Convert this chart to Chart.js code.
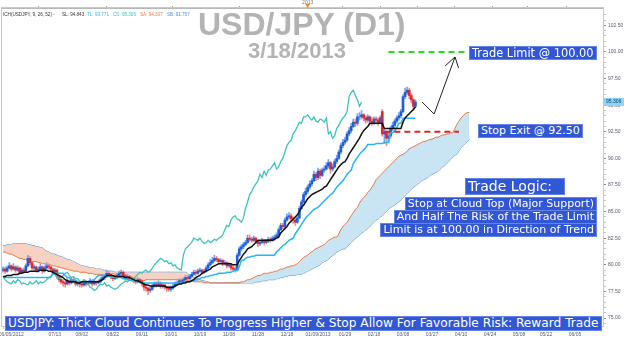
<!DOCTYPE html>
<html>
<head>
<meta charset="utf-8">
<script src="https://cdn.jsdelivr.net/npm/chart.js@4.4.1/dist/chart.umd.min.js"></script>
<style>
  body { margin: 0; background: #fff; }
  .wrap { position: relative; width: 624px; height: 345px; overflow: hidden; font-family: 'DejaVu Sans', sans-serif; }
  canvas { position: absolute; left: 0; top: 0; }
  .title { position: absolute; color: #b3b3b3; font-family: 'Liberation Sans', Arial, sans-serif; font-weight: bold; white-space: nowrap; }
  .ich { position: absolute; top: 12px; font-family: 'Liberation Sans', sans-serif; font-size: 4.6px; line-height: 6px; white-space: nowrap; }
  .note { position: absolute; background: #3157d5; color: #fff; font-size: 11px; line-height: 12px; padding: 0 2px; white-space: nowrap; border: 1px solid #6484ea; }
</style>
</head>
<body>
<div class="wrap">
  <canvas id="chart" width="624" height="345"></canvas>

  <span class="ich" style="left:3px;color:#333">ICH(USDJPY, 9, 26, 52) -</span>
  <span class="ich" id="hSL" style="left:62px;color:#333"></span>
  <span class="ich" id="hTL" style="left:87px;color:#2db4ee"></span>
  <span class="ich" id="hCS" style="left:113px;color:#36c2b6"></span>
  <span class="ich" id="hSA" style="left:140px;color:#ee7a45"></span>
  <span class="ich" id="hSB" style="left:167px;color:#4a8fd6"></span>

  <div class="title" style="left:198px;top:8px;font-size:32px;line-height:32px">USD/JPY (D1)</div>
  <div class="title" style="left:248px;top:40px;font-size:22px;line-height:22px">3/18/2013</div>

  <div class="note" style="left:469px;top:46px;font-size:11.4px">Trade Limit @ 100.00</div>
  <div class="note" style="left:478px;top:124px">Stop Exit @ 92.50</div>
  <div class="note" style="left:465px;top:178px;font-size:14px;line-height:15px;padding-right:12px">Trade Logic:</div>
  <div class="note" style="right:27px;top:197px">Stop at Cloud Top (Major Support)</div>
  <div class="note" style="right:27px;top:210px">And Half The Risk of the Trade Limit</div>
  <div class="note" style="right:27px;top:223px">Limit is at 100.00 in Direction of Trend</div>
  <div class="note" style="left:5px;top:316px;font-size:12.2px;line-height:13px">USDJPY: Thick Cloud Continues To Progress Higher &amp; Stop Allow For Favorable Risk: Reward Trade</div>
</div>

<script>
// daily USD/JPY candles, 06/05/2012 .. 3/18/2013
const opens = [79.5,79.6,79.4,79.7,79.9,79.6,79.8,79.5,79.7,79.3,
  79.5,79.4,79.9,80.6,80.2,79.7,79.8,79.5,79.6,79.8,
  79.4,79.7,79.9,79.8,79.6,79.3,79.5,78.9,78.6,78.4,
  78.3,78.2,78.5,78.3,78.6,78.5,78.2,78.3,78.2,78.1,
  78.4,78.2,78.3,78.5,78.2,78.4,78.3,78.4,78.6,78.8,
  78.9,79.2,79.1,78.9,78.7,78.8,79.0,79.2,79.3,79.0,
  78.8,78.9,78.7,78.7,78.5,78.4,78.6,78.5,78.2,77.9,
  77.8,77.6,77.7,78.0,78.2,78.1,78.3,78.0,78.1,77.9,
  77.8,77.7,77.8,78.0,78.2,78.3,78.5,78.4,78.6,78.8,
  78.7,78.9,79.1,79.3,79.2,79.4,79.5,79.3,79.4,79.7,
  80.0,80.2,80.4,80.6,80.5,80.3,80.4,80.1,80.2,79.9,
  80.0,79.7,79.6,79.5,80.9,81.5,81.7,81.9,82.1,82.5,
  82.4,82.3,82.5,82.2,82.0,82.1,82.3,82.1,82.2,82.4,
  82.3,82.5,82.6,82.8,83.3,83.7,83.6,84.2,84.5,84.6,
  84.3,84.2,84.0,84.4,85.3,85.9,86.6,86.9,87.3,87.6,
  87.9,88.5,88.2,88.8,88.4,88.9,89.0,89.3,89.6,89.0,
  89.2,89.7,90.0,90.6,91.2,91.5,91.7,92.3,92.6,93.0,
  93.4,93.3,93.9,93.9,94.1,93.8,93.6,93.9,93.5,93.4,
  93.7,93.6,93.4,94.4,92.3,92.5,91.9,92.1,92.8,93.1,
  93.5,93.8,94.0,94.4,95.8,96.2,96.4,95.9,95.5,94.9];

const highs = [79.8,79.8,79.9,80.2,80.0,80.1,79.9,79.9,79.8,79.7,
  79.7,80.1,80.9,80.8,80.3,80.0,79.9,79.8,80.1,79.9,
  79.9,80.2,80.1,79.9,79.7,79.7,79.6,79.0,78.8,78.6,
  78.5,78.7,78.6,78.8,78.8,78.6,78.5,78.4,78.4,78.6,
  78.5,78.5,78.7,78.6,78.6,78.5,78.6,78.8,79.0,79.1,
  79.5,79.4,79.2,79.0,79.0,79.2,79.4,79.5,79.4,79.1,
  79.1,79.0,78.9,78.8,78.6,78.8,78.7,78.6,78.3,78.1,
  77.9,77.9,78.2,78.4,78.4,78.5,78.4,78.3,78.2,78.0,
  78.0,78.0,78.2,78.4,78.5,78.7,78.7,78.8,79.0,79.0,
  79.1,79.3,79.5,79.5,79.6,79.7,79.6,79.6,79.9,80.2,
  80.5,80.7,80.9,80.8,80.6,80.6,80.5,80.4,80.3,80.2,
  80.1,79.9,79.8,81.1,81.7,81.9,82.1,82.3,82.8,82.8,
  82.6,82.7,82.6,82.3,82.3,82.5,82.4,82.4,82.6,82.6,
  82.7,82.8,83.0,83.5,83.9,83.9,84.4,84.8,84.9,84.8,
  84.5,84.4,84.6,85.5,86.1,86.8,87.2,87.5,87.9,88.1,
  88.8,88.7,89.1,89.0,89.1,89.3,89.6,89.9,89.7,89.5,
  89.9,90.3,90.8,91.4,91.8,92.0,92.5,92.9,93.3,93.7,
  93.7,94.2,94.3,94.5,94.2,94.0,94.1,94.0,93.8,93.9,
  93.9,93.8,94.0,94.6,92.8,92.6,92.4,93.0,93.4,93.7,
  94.0,94.3,94.6,96.0,96.6,96.7,96.6,96.1,95.6,95.5];

const lows = [79.3,79.2,79.3,79.6,79.4,79.5,79.3,79.4,79.1,79.2,
  79.2,79.3,79.8,80.0,79.5,79.5,79.3,79.3,79.5,79.2,
  79.3,79.6,79.6,79.4,79.1,79.2,78.7,78.4,78.2,78.0,
  77.9,78.1,78.1,78.2,78.3,78.0,78.0,77.9,77.9,78.0,
  78.0,78.1,78.2,78.0,78.1,78.1,78.2,78.3,78.5,78.6,
  78.8,78.9,78.7,78.5,78.6,78.7,78.9,79.1,78.8,78.6,
  78.6,78.5,78.5,78.3,78.2,78.3,78.3,78.0,77.6,77.5,
  77.2,77.4,77.6,77.9,77.9,78.0,77.8,77.8,77.7,77.5,
  77.5,77.5,77.7,77.9,78.1,78.2,78.2,78.3,78.5,78.5,
  78.6,78.8,79.0,79.0,79.1,79.3,79.1,79.2,79.3,79.6,
  79.9,80.1,80.3,80.3,80.1,80.2,79.9,80.0,79.7,79.8,
  79.5,79.4,79.3,79.4,80.8,81.3,81.5,81.8,82.0,82.2,
  82.1,82.2,82.0,81.7,81.8,82.0,81.9,82.0,82.1,82.1,
  82.2,82.3,82.5,82.7,83.2,83.4,83.5,84.1,84.3,84.0,
  83.9,83.7,83.9,84.3,85.2,85.8,86.4,86.7,87.1,87.4,
  87.8,87.9,88.0,88.1,88.3,88.7,88.9,89.1,88.6,88.8,
  89.1,89.5,89.9,90.4,91.0,91.3,91.6,92.1,92.4,92.9,
  93.0,93.1,93.6,93.7,93.5,93.3,93.4,93.2,93.1,93.2,
  93.3,93.1,93.3,92.1,91.4,91.2,91.5,91.9,92.6,92.9,
  93.3,93.6,93.8,94.3,95.6,96.0,95.6,95.2,94.5,94.8];

const closes = [79.6,79.4,79.7,79.9,79.6,79.8,79.5,79.7,79.3,79.5,
  79.4,79.9,80.6,80.2,79.7,79.8,79.5,79.6,79.8,79.4,
  79.7,79.9,79.8,79.6,79.3,79.5,78.9,78.6,78.4,78.3,
  78.2,78.5,78.3,78.6,78.5,78.2,78.3,78.2,78.1,78.4,
  78.2,78.3,78.5,78.2,78.4,78.3,78.4,78.6,78.8,78.9,
  79.2,79.1,78.9,78.7,78.8,79.0,79.2,79.3,79.0,78.8,
  78.9,78.7,78.7,78.5,78.4,78.6,78.5,78.2,77.9,77.8,
  77.6,77.7,78.0,78.2,78.1,78.3,78.0,78.1,77.9,77.8,
  77.7,77.8,78.0,78.2,78.3,78.5,78.4,78.6,78.8,78.7,
  78.9,79.1,79.3,79.2,79.4,79.5,79.3,79.4,79.7,80.0,
  80.2,80.4,80.6,80.5,80.3,80.4,80.1,80.2,79.9,80.0,
  79.7,79.6,79.5,80.9,81.5,81.7,81.9,82.1,82.5,82.4,
  82.3,82.5,82.2,82.0,82.1,82.3,82.1,82.2,82.4,82.3,
  82.5,82.6,82.8,83.3,83.7,83.6,84.2,84.5,84.6,84.3,
  84.2,84.0,84.4,85.3,85.9,86.6,86.9,87.3,87.6,87.9,
  88.5,88.2,88.8,88.4,88.9,89.0,89.3,89.6,89.0,89.2,
  89.7,90.0,90.6,91.2,91.5,91.7,92.3,92.6,93.0,93.4,
  93.3,93.9,93.9,94.1,93.8,93.6,93.9,93.5,93.4,93.7,
  93.6,93.4,93.8,92.3,92.5,91.9,92.1,92.8,93.1,93.5,
  93.8,94.0,94.4,95.8,96.2,96.4,95.9,95.5,94.9,95.306];

// ichimoku: standard line (black) and turning line (blue)
const standardLine = [78.9,78.9,79.0,79.0,79.0,79.1,79.1,79.1,79.2,79.2,
  79.3,79.3,79.3,79.4,79.4,79.4,79.4,79.4,79.5,79.5,
  79.5,79.5,79.4,79.4,79.3,79.2,79.1,79.0,78.9,78.8,
  78.6,78.5,78.4,78.4,78.4,78.4,78.3,78.3,78.4,78.4,
  78.4,78.4,78.4,78.4,78.4,78.4,78.4,78.5,78.6,78.8,
  79.0,79.0,79.0,79.0,78.9,78.9,78.9,78.9,78.9,78.8,
  78.8,78.8,78.7,78.6,78.5,78.5,78.4,78.3,78.2,78.1,
  78.1,78.0,78.0,78.0,78.0,78.0,78.0,78.0,78.0,77.9,
  77.9,77.9,77.9,78.0,78.1,78.2,78.2,78.3,78.3,78.4,
  78.4,78.5,78.6,78.8,78.9,79.0,79.2,79.3,79.4,79.5,
  79.6,79.8,79.9,80.0,80.1,80.1,80.1,80.1,80.1,80.1,
  80.1,80.0,80.0,80.0,80.4,80.7,81.0,81.2,81.5,81.6,
  81.7,81.9,82.1,82.3,82.3,82.3,82.3,82.3,82.3,82.3,
  82.3,82.4,82.5,82.6,83.0,83.2,83.4,83.6,83.9,84.1,
  84.3,84.5,84.7,85.0,85.4,85.6,85.9,86.2,86.4,86.6,
  86.7,86.8,86.9,87.0,87.1,87.3,87.4,87.7,88.0,88.3,
  88.6,88.9,89.2,89.4,89.6,89.7,90.0,90.4,90.7,91.0,
  91.3,91.6,91.9,92.3,92.6,92.8,93.0,93.3,93.3,93.3,
  93.3,93.3,93.3,93.3,92.8,92.8,92.8,92.8,92.8,92.8,
  92.8,92.8,92.8,93.4,93.8,94.0,94.2,94.4,94.6,94.843];

const turningLine = [78.8,78.8,78.8,78.8,78.8,78.8,78.8,78.8,78.8,78.8,
  78.8,78.8,78.8,78.8,78.8,78.8,78.8,78.8,78.8,78.8,
  78.8,78.8,78.8,78.8,79.2,79.2,79.2,79.2,79.2,79.2,
  79.0,78.8,78.8,78.6,78.6,78.5,78.4,78.4,78.4,78.4,
  78.4,78.4,78.4,78.5,78.6,78.8,79.0,79.0,79.0,79.0,
  79.0,78.9,78.9,78.8,78.8,78.8,78.8,78.8,78.7,78.7,
  78.6,78.6,78.5,78.5,78.4,78.4,78.4,78.3,78.3,78.3,
  78.3,78.3,78.3,78.3,78.3,78.3,78.3,78.3,78.3,78.3,
  78.3,78.3,78.3,78.3,78.3,78.3,78.3,78.4,78.4,78.4,
  78.4,78.5,78.5,78.6,78.6,78.7,78.8,78.8,78.9,78.9,
  79.0,79.0,79.1,79.1,79.2,79.2,79.2,79.2,79.3,79.3,
  79.3,79.4,79.5,79.5,79.8,80.4,80.4,80.6,80.7,80.7,
  80.8,80.8,80.9,80.9,80.9,80.9,80.9,80.9,80.9,80.9,
  80.9,80.9,81.2,81.4,81.6,81.8,81.9,82.1,82.3,82.4,
  82.5,82.9,83.2,83.5,83.8,84.1,84.4,84.6,84.8,85.0,
  85.2,85.3,85.4,85.6,85.8,86.0,86.2,86.4,86.6,86.7,
  87.0,87.3,87.5,87.7,87.9,88.2,88.5,88.7,88.9,89.5,
  89.8,90.1,90.4,90.6,90.8,91.0,91.3,91.3,91.3,91.3,
  91.4,91.4,91.4,91.4,91.5,91.5,91.5,92.4,92.4,92.6,
  92.9,93.3,93.3,93.771,93.771,93.771,93.771,93.771,93.771,93.771];

// cloud spans, plotted 26 sessions ahead
const spanA = [81.2,81.2,81.1,81.0,81.0,80.9,80.8,80.7,80.6,80.6,
  80.5,80.5,80.4,80.4,80.3,80.3,80.3,80.2,80.2,80.1,
  80.1,80.0,80.0,80.0,79.9,79.9,79.8,79.8,79.7,79.7,
  79.6,79.6,79.5,79.5,79.4,79.4,79.4,79.3,79.3,79.3,
  79.3,79.2,79.2,79.2,79.1,79.1,79.1,79.1,79.1,79.0,
  79.1,79.1,79.1,79.2,79.1,79.1,79.1,79.0,79.0,78.9,
  78.9,78.8,78.8,78.7,78.7,78.6,78.6,78.5,78.5,78.6,
  78.6,78.6,78.6,78.6,78.6,78.6,78.6,78.6,78.6,78.6,
  78.6,78.6,78.6,78.6,78.6,78.6,78.6,78.6,78.6,78.5,
  78.5,78.5,78.4,78.4,78.4,78.4,78.4,78.3,78.3,78.3,
  78.3,78.3,78.3,78.3,78.3,78.3,78.3,78.3,78.3,78.3,
  78.3,78.3,78.3,78.3,78.3,78.4,78.4,78.5,78.6,78.6,
  78.7,78.8,78.9,79.0,79.0,79.1,79.2,79.2,79.2,79.3,
  79.3,79.4,79.4,79.5,79.6,79.6,79.7,79.8,79.8,79.9,
  79.9,80.0,80.1,80.3,80.5,80.7,80.8,80.9,81.1,81.2,
  81.4,81.5,81.6,81.7,81.8,81.9,82.1,82.3,82.4,82.5,
  82.6,82.6,82.9,83.3,83.6,83.8,84.0,84.3,84.6,84.9,
  85.2,85.4,85.8,86.1,86.3,86.5,86.8,87.0,87.3,87.6,
  88.0,88.2,88.4,88.6,88.8,89.0,89.2,89.4,89.6,89.8,
  90.0,90.2,90.3,90.4,90.5,90.7,90.9,91.0,91.1,91.2,
  91.3,91.4,91.5,91.6,91.6,91.7,91.8,91.8,91.9,92.0,
  92.0,92.1,92.2,92.2,92.3,92.3,92.4,92.4,92.8,93.2,
  93.5,93.8,94.0,94.2,94.3,94.307];

const spanB = [81.8,81.8,81.9,81.9,81.9,82.0,82.0,82.0,82.0,82.0,
  82.0,82.0,81.9,81.9,81.8,81.8,81.7,81.7,81.6,81.6,
  81.4,81.3,81.2,81.1,81.0,81.0,80.9,80.8,80.8,80.7,
  80.6,80.5,80.5,80.4,80.3,80.2,80.1,80.0,79.9,79.9,
  79.8,79.8,79.7,79.7,79.7,79.6,79.6,79.6,79.5,79.5,
  79.4,79.4,79.4,79.4,79.3,79.3,79.3,79.3,79.3,79.3,
  79.3,79.3,79.3,79.3,79.3,79.3,79.3,79.3,79.3,79.3,
  79.3,79.3,79.3,79.3,79.3,79.3,79.3,79.3,79.3,79.3,
  79.3,79.3,79.3,79.3,79.3,79.3,79.3,79.3,79.3,79.2,
  79.0,78.9,78.8,78.7,78.7,78.6,78.5,78.5,78.4,78.4,
  78.3,78.3,78.3,78.3,78.3,78.3,78.3,78.3,78.3,78.3,
  78.3,78.3,78.3,78.3,78.3,78.3,78.3,78.3,78.3,78.3,
  78.3,78.3,78.4,78.4,78.4,78.5,78.5,78.5,78.6,78.6,
  78.6,78.6,78.7,78.7,78.8,78.8,78.9,78.9,79.0,79.0,
  79.0,79.0,79.1,79.1,79.1,79.2,79.3,79.4,79.5,79.6,
  79.7,79.8,79.9,80.0,80.2,80.3,80.4,80.5,80.7,80.9,
  81.0,81.2,81.3,81.4,81.5,81.5,81.7,81.9,82.1,82.3,
  82.5,82.6,82.8,83.0,83.1,83.3,83.4,83.6,83.8,84.0,
  84.2,84.3,84.5,84.6,84.8,85.0,85.2,85.4,85.5,85.6,
  85.8,85.9,86.1,86.3,86.5,86.7,86.9,87.1,87.3,87.4,
  87.6,87.7,87.9,88.0,88.1,88.2,88.4,88.5,88.6,88.7,
  88.8,89.0,89.2,89.3,89.5,89.7,89.9,90.1,90.3,90.4,
  90.7,91.0,91.2,91.4,91.6,91.757];

const lagShift = 26;
const slotCount = 290;

const tickDates = ['06/05/2012', '07/13', '08/02', '08/22', '09/11', '10/01', '10/19', '11/08', '11/28', '12/18',
  '01/09/2013', '01/29', '02/18', '03/08', '03/27', '04/10', '04/24', '05/08', '05/22', '06/05'];
const tickSlots = [4, 25, 38, 53, 67, 81, 95, 109, 123, 137, 152, 165, 179, 193, 207, 221, 235, 249, 262, 276];
const topTicks = [17, 50, 82, 114, 147, 164, 182, 200, 218, 236, 253, 272];
const yearSlot = 147;
const yearText = '2013';

const priceTicks = [75, 77.5, 80, 82.5, 85, 87.5, 90, 92.5, 95, 97.5, 100, 102.5];
const yMin = 74.25;
const yMax = 104.13;

// trade plan levels
const tradeLimit = 100;
const stopExit = 92.5;
const limitSlots = [186, 223];
const stopSlots = [184, 220];
const pathSlots = [202.2, 208, 218.1];
const pathPrices = [95.3, 94.17, 99.53];
const headSlots = [213.3, 218.1, 219.8];
const headPrices = [98.68, 99.53, 98.5];

const labels = Array.from({ length: slotCount }, (_, i) => {
  const k = tickSlots.indexOf(i);
  return k >= 0 ? tickDates[k] : '';
});
const bodies = closes.map((c, i) => [opens[i], c]);
const wicks = closes.map((c, i) => [lows[i], highs[i]]);
const rising = closes.map((c, i) => c >= opens[i]);
const bodyColors = rising.map(up => up ? '#1d5fd8' : '#e3262a');
const wickColors = rising.map(up => up ? '#78a2ee' : '#f08a8a');
const chikou = closes.slice(lagShift);
const pts = (xs, ys) => xs.map((x, i) => ({ x: x, y: ys[i] }));

const last = a => a[a.length - 1];
document.getElementById('hSL').textContent = 'SL: ' + last(standardLine).toFixed(3);
document.getElementById('hTL').textContent = 'TL: ' + last(turningLine).toFixed(3);
document.getElementById('hCS').textContent = 'CS: ' + last(closes).toFixed(3);
document.getElementById('hSA').textContent = 'SA: ' + last(spanA).toFixed(3);
document.getElementById('hSB').textContent = 'SB: ' + last(spanB).toFixed(3);

const yValues = [];
for (let k = 149; k <= 207; k++) yValues.push(k / 2);

const extras = {
  id: 'extras',
  beforeDatasetsDraw(chart) {
    const { ctx, chartArea: a } = chart;
    ctx.save();
    ctx.strokeStyle = '#c9c9c9';
    ctx.lineWidth = 1;
    ctx.strokeRect(a.left - 0.5, a.top - 0.5, a.right - a.left + 1, a.bottom - a.top + 1);
    ctx.restore();
  },
  afterDraw(chart) {
    const { ctx, chartArea: a, scales } = chart;
    const price = last(closes);
    const y = scales.y.getPixelForValue(price);
    ctx.save();
    ctx.fillStyle = '#8cd6f5';
    ctx.fillRect(a.right + 1, y - 4, 20, 8);
    ctx.fillStyle = '#1a3566';
    ctx.font = '5px "Liberation Sans"';
    ctx.textBaseline = 'middle';
    ctx.fillText(price.toFixed(3), a.right + 3, y);

    const mx = scales.xTop.getPixelForValue(yearSlot);
    ctx.fillStyle = '#f08a1c';
    ctx.beginPath();
    ctx.moveTo(mx - 2.5, a.top - 4);
    ctx.lineTo(mx + 2.5, a.top - 4);
    ctx.lineTo(mx, a.top);
    ctx.closePath();
    ctx.fill();
    ctx.restore();
  }
};

Chart.defaults.font.family = "'Liberation Sans', sans-serif";

new Chart(document.getElementById('chart'), {
  type: 'bar',
  data: {
    labels: labels,
    datasets: [
      { type: 'line', label: 'Limit', xAxisID: 'xTop', data: pts(limitSlots, [tradeLimit, tradeLimit]),
        borderColor: '#22dd22', borderWidth: 2, borderDash: [6, 4], order: 0 },
      { type: 'line', label: 'Stop', xAxisID: 'xTop', data: pts(stopSlots, [stopExit, stopExit]),
        borderColor: '#e52222', borderWidth: 2, borderDash: [6, 4], order: 0 },
      { type: 'line', label: 'Path', xAxisID: 'xTop', data: pts(pathSlots, pathPrices),
        borderColor: '#222', borderWidth: 1, order: 0 },
      { type: 'line', label: 'Head', xAxisID: 'xTop', data: pts(headSlots, headPrices),
        borderColor: '#222', borderWidth: 1, order: 0 },
      { type: 'line', label: 'SL', data: standardLine, borderColor: '#111', borderWidth: 1.5, order: 1 },
      { type: 'line', label: 'TL', data: turningLine, borderColor: '#27b6f2', borderWidth: 1.5, order: 2 },
      { type: 'line', label: 'CS', data: chikou, borderColor: '#3cc4ba', borderWidth: 1.3, order: 3 },
      { label: 'Body', data: bodies, backgroundColor: bodyColors, barThickness: 2, grouped: false, order: 4 },
      { label: 'Wick', data: wicks, backgroundColor: wickColors, barThickness: 1, grouped: false, order: 5 },
      { type: 'line', label: 'SA', data: spanA, borderColor: '#e8773f', borderWidth: 1,
        fill: { target: '+1', above: '#c9e5f3', below: '#f7d2c3' }, order: 6 },
      { type: 'line', label: 'SB', data: spanB, borderColor: '#4690d4', borderWidth: 1, order: 7 }
    ]
  },
  options: {
    responsive: false,
    animation: false,
    devicePixelRatio: 1,
    events: [],
    layout: { padding: { left: 2 } },
    elements: {
      point: { radius: 0 },
      line: { tension: 0 },
      bar: { borderWidth: 0 }
    },
    plugins: {
      legend: { display: false },
      tooltip: { enabled: false }
    },
    scales: {
      x: {
        type: 'category',
        position: 'bottom',
        offset: true,
        afterFit: s => { s.height = 19; },
        border: { color: '#b8b8b8' },
        grid: {
          drawOnChartArea: false,
          offset: false,
          tickLength: 3,
          tickColor: c => labels[c.index] ? '#888' : (c.index % 3 === 0 ? '#c4c4c4' : 'rgba(0,0,0,0)')
        },
        ticks: { autoSkip: false, maxRotation: 0, minRotation: 0, padding: 3, color: '#555b6a', font: { size: 5 } }
      },
      xTop: {
        type: 'linear',
        axis: 'x',
        position: 'top',
        offset: false,
        min: -0.5,
        max: slotCount - 0.5,
        afterFit: s => { s.height = 8; },
        afterBuildTicks: s => { s.ticks = topTicks.map(v => ({ value: v })); },
        border: { color: '#b8b8b8' },
        grid: { drawOnChartArea: false, offset: false, tickLength: 2, tickColor: '#999' },
        ticks: {
          autoSkip: false,
          padding: 0,
          color: '#777',
          font: { size: 5 },
          callback: v => v === yearSlot ? yearText : ''
        }
      },
      y: {
        type: 'linear',
        position: 'right',
        min: yMin,
        max: yMax,
        afterFit: s => { s.width = 21; },
        afterBuildTicks: s => { s.ticks = yValues.map(v => ({ value: v })); },
        border: { color: '#b8b8b8' },
        grid: {
          drawOnChartArea: false,
          tickLength: 3,
          tickColor: c => priceTicks.includes(c.tick.value) ? '#888' : '#c4c4c4'
        },
        ticks: {
          autoSkip: false,
          padding: 2,
          color: '#555b6a',
          font: { size: 5 },
          callback: v => priceTicks.includes(v) ? v.toFixed(2) : ''
        }
      }
    }
  },
  plugins: [extras]
});
</script>
</body>
</html>
